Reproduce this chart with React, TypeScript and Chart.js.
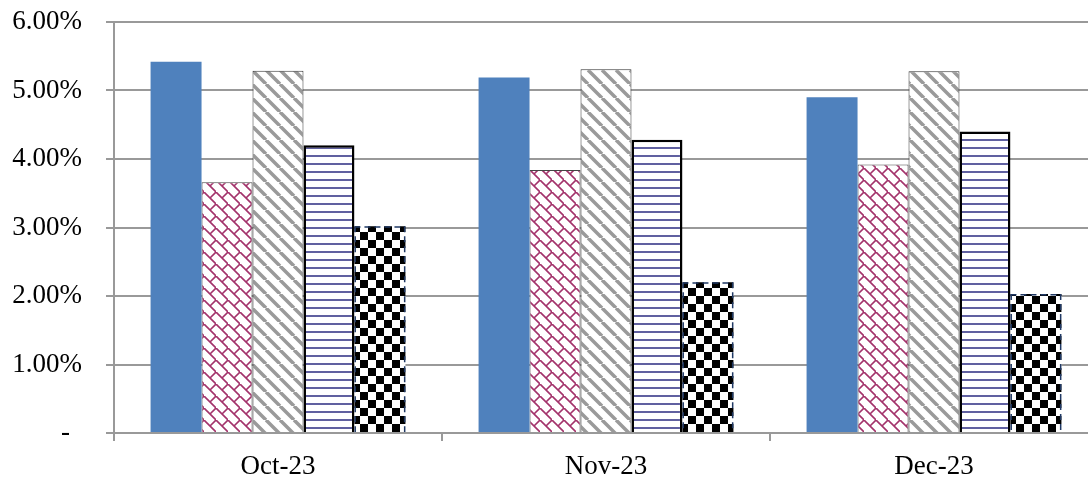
import React, { useEffect, useRef } from "react";
import { Chart, registerables } from "chart.js";

Chart.register(...registerables);

const categories = ["Oct-23", "Nov-23", "Dec-23"];
const seriesBlue = [5.42, 5.19, 4.9];
const seriesLattice = [3.66, 3.84, 3.92];
const seriesDiagonal = [5.29, 5.31, 5.28];
const seriesHLines = [4.2, 4.28, 4.4];
const seriesChecker = [3.02, 2.2, 2.03];
const yTickValues = [0, 1, 2, 3, 4, 5, 6];
const zeroLabel = "-";

function makePattern(size: number, draw: (c: CanvasRenderingContext2D) => void): CanvasPattern | string {
  const cv = document.createElement("canvas");
  cv.width = size;
  cv.height = size;
  const c = cv.getContext("2d");
  if (!c) return "#fff";
  c.fillStyle = "#ffffff";
  c.fillRect(0, 0, size, size);
  draw(c);
  const p = c.createPattern(cv, "repeat");
  return p || "#fff";
}

export default function App() {
  const ref = useRef<HTMLCanvasElement | null>(null);

  useEffect(() => {
    if (!ref.current) return;

    const lattice = makePattern(12, (c) => {
      c.strokeStyle = "#a3336b";
      c.lineWidth = 1.6;
      c.beginPath();
      c.moveTo(-1, -1);
      c.lineTo(13, 13);
      c.moveTo(6, 6);
      c.lineTo(13, -1);
      c.moveTo(-1, 13);
      c.lineTo(0, 12);
      c.stroke();
    });
    const diagonal = makePattern(14, (c) => {
      c.strokeStyle = "#9a9a9a";
      c.lineWidth = 3.5;
      c.beginPath();
      for (let k = -14; k <= 28; k += 14) {
        c.moveTo(k, 0);
        c.lineTo(k + 14, 14);
      }
      c.stroke();
    });
    const hlines = makePattern(8, (c) => {
      c.fillStyle = "#6060a0";
      c.fillRect(0, 3, 8, 2);
    });
    const checker = makePattern(16, (c) => {
      c.fillStyle = "#000000";
      c.fillRect(0, 0, 8, 8);
      c.fillRect(8, 8, 8, 8);
    });

    const fontFamily = "'Liberation Serif', 'Times New Roman', serif";
    const font = { family: fontFamily, size: 27 };
    const gridColor = "#999999";

    const extras = {
      id: "extras",
      afterDatasetsDraw(chart: any) {
        const meta = chart.getDatasetMeta(4);
        const ctx = chart.ctx;
        ctx.save();
        ctx.strokeStyle = "#1f3864";
        ctx.lineWidth = 1.5;
        ctx.setLineDash([6, 4]);
        meta.data.forEach((bar: any) => {
          const half = bar.width / 2;
          ctx.beginPath();
          ctx.moveTo(bar.x - half + 0.75, bar.y);
          ctx.lineTo(bar.x - half + 0.75, bar.base);
          ctx.moveTo(bar.x + half - 0.75, bar.y);
          ctx.lineTo(bar.x + half - 0.75, bar.base);
          ctx.moveTo(bar.x - half, bar.y + 0.75);
          ctx.lineTo(bar.x + half, bar.y + 0.75);
          ctx.stroke();
        });
        ctx.restore();
      },
      afterDraw(chart: any) {
        const ctx = chart.ctx;
        const y0 = chart.scales.y.getPixelForValue(0);
        ctx.save();
        ctx.fillStyle = "#000";
        ctx.font = `27px ${fontFamily}`;
        ctx.textAlign = "left";
        ctx.textBaseline = "middle";
        ctx.fillText(zeroLabel, 61, y0);
        ctx.restore();
      },
    };

    const chart = new Chart(ref.current, {
      type: "bar",
      data: {
        labels: categories,
        datasets: [
          { label: "A", data: seriesBlue, backgroundColor: "#4f81bd", borderWidth: 0 },
          { label: "B", data: seriesLattice, backgroundColor: lattice as any, borderColor: "#444444", borderWidth: 1 },
          { label: "C", data: seriesDiagonal, backgroundColor: diagonal as any, borderColor: "#333333", borderWidth: 1 },
          { label: "D", data: seriesHLines, backgroundColor: hlines as any, borderColor: "#000000", borderWidth: 2.5 },
          { label: "E", data: seriesChecker, backgroundColor: checker as any, borderWidth: 0 },
        ],
      },
      options: {
        animation: false,
        responsive: true,
        maintainAspectRatio: false,
        layout: { padding: { top: 22, left: 0, right: 0, bottom: 0 } },
        plugins: { legend: { display: false }, tooltip: { enabled: false } },
        datasets: { bar: { categoryPercentage: 0.777, barPercentage: 1 } },
        scales: {
          x: {
            grid: { display: true, drawOnChartArea: false, drawTicks: true, tickLength: 8, color: gridColor, lineWidth: 2, offset: true },
            border: { display: true, color: gridColor, width: 2 },
            ticks: { font, color: "#000", padding: 10, maxRotation: 0 },
            afterFit: (scale: any) => {
              scale.height = 487 - 433;
              scale.paddingLeft = 0;
              scale.paddingRight = 0;
            },
          },
          y: {
            min: 0,
            max: 6,
            afterBuildTicks: (scale: any) => {
              scale.ticks = yTickValues.map((v) => ({ value: v }));
            },
            grid: { display: true, drawOnChartArea: true, drawTicks: true, tickLength: 8, color: gridColor, lineWidth: 2 },
            border: { display: true, color: gridColor, width: 2 },
            ticks: {
              font,
              color: "#000",
              padding: 24,
              callback: (v: any) => (Number(v) === 0 ? "" : Number(v).toFixed(2) + "%"),
            },
            afterFit: (scale: any) => {
              scale.width = 114;
              scale.paddingTop = 0;
              scale.paddingBottom = 0;
            },
          },
        },
      },
      plugins: [extras],
    });

    return () => chart.destroy();
  }, []);

  return (
    <div style={{ position: "fixed", left: 0, top: 0, width: 1088, height: 487, overflow: "hidden", background: "#fff" }}>
      <div style={{ position: "relative", width: 1098, height: 487 }}>
        <canvas ref={ref} />
      </div>
    </div>
  );
}
